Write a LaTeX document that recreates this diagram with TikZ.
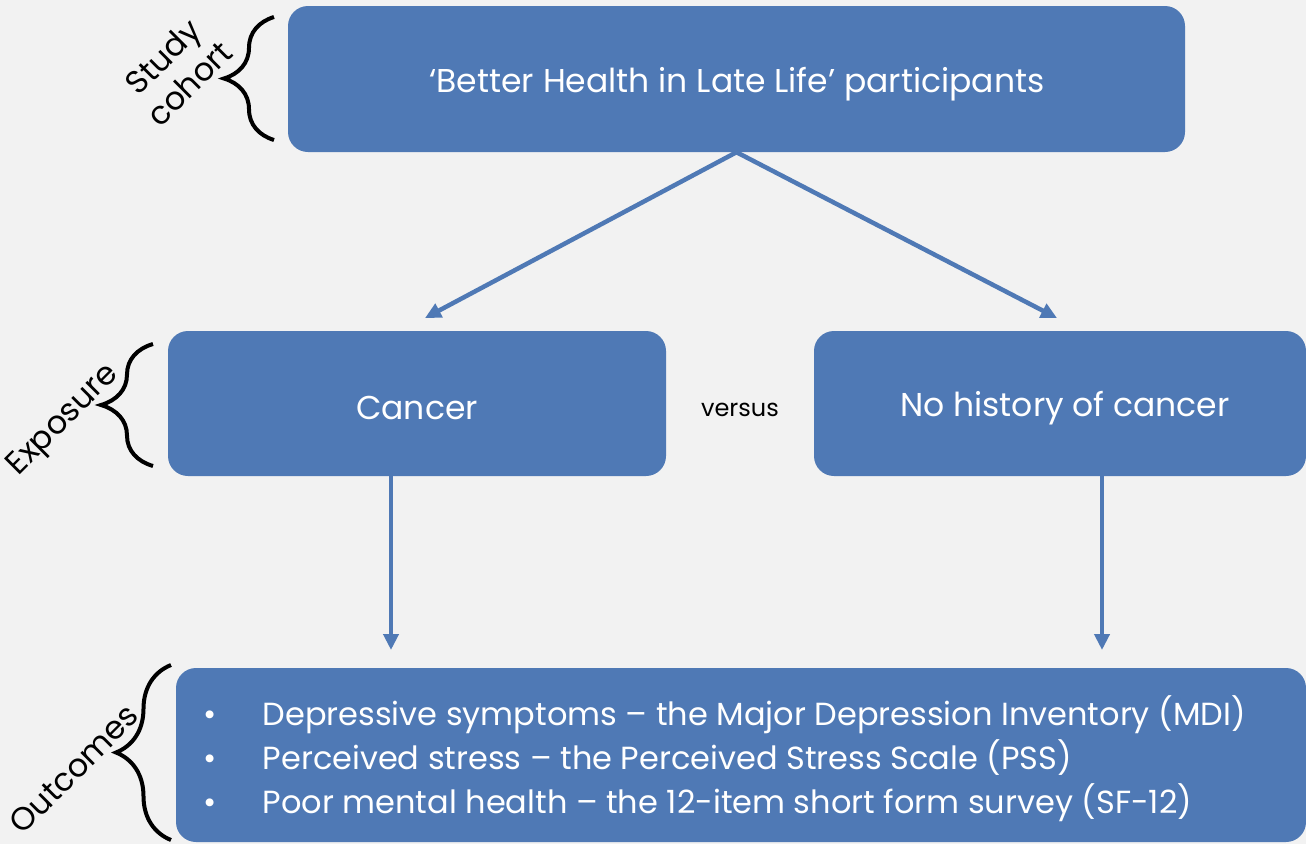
\documentclass[tikz,border=0pt]{standalone}
\usepackage{fontspec}
\setmainfont{Poppins}
\usepackage{tikz}
\usetikzlibrary{calc}
\usetikzlibrary{arrows.meta}
\usetikzlibrary{decorations.pathreplacing}
\definecolor{boxblue}{RGB}{79,121,181}
\definecolor{pagegray}{RGB}{242,242,242}
\tikzset{
  stage/.style={fill=boxblue, rounded corners=20pt, text=white, inner sep=0pt},
  flow/.style={draw=boxblue, line width=4.5pt, -{Triangle[length=16pt,width=15pt]}},
  curly/.style={draw=black, line width=4pt, decorate, decoration={brace, amplitude=#1}},
  tag/.style={rotate=45, font=\fontsize{32}{38}\selectfont, align=center}
}

\begin{document}
\begin{tikzpicture}[x=1pt,y=-1pt]
  \fill[pagegray] (0,0) rectangle (1306,844);
  \useasboundingbox (0,0) rectangle (1306,844);
  \clip (0,0) rectangle (1306,844);

  \node[stage, minimum width=897pt, minimum height=146pt] (cohort) at (736.5,79) {};
  \node[text=white, font=\fontsize{33}{36}\selectfont] (cohorttxt) at (737,84)
        {‘Better Health in Late Life’ participants};

  \node[stage, minimum width=498pt, minimum height=145pt] (cancer) at (417,403.5) {};
  \node[text=white, font=\fontsize{33}{36}\selectfont] (cancertxt) at (417,408) {Cancer};
  \node[stage, minimum width=492pt, minimum height=145pt] (nocancer) at (1060,403.5) {};
  \node[text=white, font=\fontsize{33}{36}\selectfont] (nocancertxt) at (1065,408) {No history of cancer};

  \node[font=\fontsize{24}{26}\selectfont] (versus) at (740,410) {versus};

  \node[stage, minimum width=1130pt, minimum height=174pt] (outcomes) at (741,755) {};
  \node[text=white, anchor=west, font=\fontsize{32}{44}\selectfont] (list) at (200,761)
  {\begin{tabular}{@{}l@{\hspace{46pt}}l@{}}
    \textbullet & Depressive symptoms – the Major Depression Inventory (MDI)\\
    \textbullet & Perceived stress – the Perceived Stress Scale (PSS)\\
    \textbullet & Poor mental health – the 12-item short form survey (SF-12)
  \end{tabular}};

  % arrows between stages
  \coordinate (split) at (cohort.south);
  \coordinate (cancerin) at (425,318);
  \coordinate (nocancerin) at (1057,318);
  \coordinate (cancerout) at (391,476);
  \coordinate (cancerend) at (391,650);
  \coordinate (nocancerout) at (1102,476);
  \coordinate (nocancerend) at (1102,650);

  \draw[flow] (split) -- (cancerin);
  \draw[flow] (split) -- (nocancerin);
  \draw[flow] (cancerout) -- (cancerend);
  \draw[flow] (nocancerout) -- (nocancerend);

  % braces and side labels
  \draw[curly=50pt] (274,140) -- (274,17);
  \draw[curly=52pt] (153,466) -- (153,344);
  \draw[curly=55pt] (171,840) -- (171,665);

  \node[tag] (studylbl) at (176,70) {Study\\cohort};
  \node[tag] (exposurelbl) at (64,421) {Exposure};
  \node[tag] (outcomeslbl) at (74,769) {Outcomes};
\end{tikzpicture}
\end{document}
